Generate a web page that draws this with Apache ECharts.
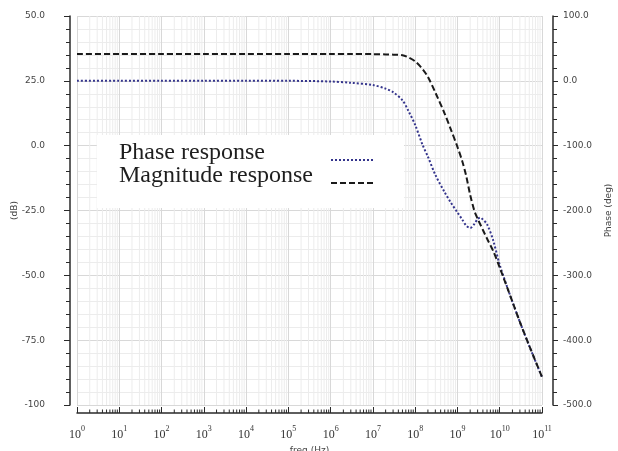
<!DOCTYPE html>
<html>
<head>
<meta charset="utf-8">
<script src="https://cdn.jsdelivr.net/npm/echarts@6/dist/echarts.min.js"></script>
<style>
  html, body { margin: 0; padding: 0; background: #ffffff; }
  #chart { width: 618px; height: 451px; }
</style>
</head>
<body>
<div id="chart"></div>
<script>
// Frequency sweep (Hz) and the two responses sampled at those frequencies
const freqHz = [1, 10, 100, 1e3, 1e4, 1e5, 1e6, 3e6, 1e7, 2e7, 3e7, 5e7, 7e7,
  1e8, 1.5e8, 2e8, 3e8, 5e8, 7e8, 1e9, 1.3e9, 1.6e9, 2e9, 2.5e9, 3e9, 3.5e9,
  4e9, 5e9, 7e9, 1e10, 2e10, 3e10, 5e10, 1e11];

const magnitudeDb = [35.3, 35.3, 35.3, 35.3, 35.3, 35.3, 35.3, 35.3, 35.3, 35.2, 35.1, 34.9, 34.0,
  32.5, 29.5, 26.5, 20.5, 12.3, 6.2, -0.5, -6.0, -11.5, -19.0, -25.0, -28.2, -30.5,
  -32.5, -35.8, -40.6, -47.0, -60.2, -68.0, -77.2, -89.2];

const phaseDeg = [0, 0, 0, 0, 0, 0, -1, -3, -6.5, -12, -17.5, -30, -47,
  -68, -99, -117, -145, -172, -188, -203, -214, -223, -227, -221, -213, -211,
  -214, -221, -246, -284, -341, -372, -409, -457];

// Axis ticks
const dbTicks = [50, 25, 0, -25, -50, -75, -100];
const degTicks = [100, 0, -100, -200, -300, -400, -500];
const decadeExponents = [0, 1, 2, 3, 4, 5, 6, 7, 8, 9, 10];
const minorMultipliers = [2, 3, 4, 5, 6, 7, 8, 9];

const AXIS_OFFSET_X = 8;

// Log-spaced minor positions (2..9 within each decade)
const minorFreqs = [];
decadeExponents.forEach(function (e) {
  minorMultipliers.forEach(function (m) { minorFreqs.push([m * Math.pow(10, e), 0]); });
});

const chart = echarts.init(document.getElementById('chart'), null, { renderer: 'canvas' });

const option = {
  animation: false,
  backgroundColor: '#ffffff',
  grid: { left: 77, right: 76, top: 16, bottom: 46, containLabel: false, outerBoundsMode: 'none' },
  legend: {
    data: ['Phase response', 'Magnitude response'],
    orient: 'vertical',
    left: 97,
    top: 135,
    align: 'right',
    backgroundColor: '#ffffff',
    padding: [6, 30, 6, 22],
    itemGap: -15,
    itemWidth: 42,
    itemHeight: 14,
    itemStyle: { opacity: 0, color: 'rgba(0,0,0,0)', borderWidth: 0 },
    // text sits a little above the line sample, sample near the baseline
    formatter: function (name) { return '{t|' + name + '}'; },
    textStyle: {
      rich: {
        t: {
          fontFamily: 'Liberation Serif',
          fontSize: 24,
          color: '#1e1e1e',
          width: 207,
          align: 'left',
          lineHeight: 24,
          padding: [0, 0, 14, 0]
        }
      }
    }
  },
  xAxis: {
    type: 'log',
    logBase: 10,
    min: 1,
    max: 1e11,
    interval: 1,
    splitNumber: 11,
    offset: AXIS_OFFSET_X,
    name: 'freq (Hz)',
    nameLocation: 'middle',
    nameGap: 32,
    nameTextStyle: { fontFamily: 'DejaVu Sans', fontSize: 9, color: '#444' },
    axisLine: { show: true, onZero: false, lineStyle: { color: '#2a2a2a', width: 1.5 } },
    axisTick: { show: true, inside: true, length: 6, lineStyle: { color: '#2a2a2a' } },
    splitLine: { show: true, lineStyle: { color: '#d8d8d8', width: 1 } },
    axisLabel: {
      margin: 12,
      formatter: function (v) {
        const e = Math.round(Math.log10(v));
        return '{b|10}{s|' + e + '}';
      },
      rich: {
        b: { fontFamily: 'Liberation Serif', fontSize: 12, color: '#333', lineHeight: 16, verticalAlign: 'bottom' },
        s: { fontFamily: 'Liberation Serif', fontSize: 8, color: '#333', lineHeight: 16, verticalAlign: 'top' }
      }
    }
  },
  yAxis: [
    {
      type: 'value',
      position: 'left',
      min: -100,
      max: 50,
      interval: 25,
      offset: 7,
      name: '(dB)',
      nameLocation: 'middle',
      nameRotate: 90,
      nameGap: 51,
      nameMoveOverlap: false,
      nameTextStyle: { fontFamily: 'DejaVu Sans', fontSize: 9, color: '#444' },
      axisLine: { show: true, lineStyle: { color: '#2a2a2a', width: 1.5 } },
      axisTick: { show: true, length: 6, lineStyle: { color: '#2a2a2a' } },
      minorTick: { show: true, splitNumber: 5, length: 4, lineStyle: { color: '#2a2a2a' } },
      splitLine: { show: true, lineStyle: { color: '#d8d8d8', width: 1 } },
      minorSplitLine: { show: true, lineStyle: { color: '#ececec', width: 1 } },
      axisLabel: {
        margin: 25,
        fontFamily: 'DejaVu Sans',
        fontSize: 9,
        color: '#444',
        formatter: function (v) { return v === -100 ? '-100' : v.toFixed(1); }
      }
    },
    {
      type: 'value',
      position: 'right',
      min: -500,
      max: 100,
      interval: 100,
      offset: 11,
      name: 'Phase (deg)',
      nameLocation: 'middle',
      nameRotate: 90,
      nameGap: 51,
      nameMoveOverlap: false,
      nameTextStyle: { fontFamily: 'DejaVu Sans', fontSize: 9, color: '#444' },
      axisLine: { show: true, lineStyle: { color: '#2a2a2a', width: 1.5 } },
      axisTick: { show: true, length: 5, lineStyle: { color: '#2a2a2a' } },
      minorTick: { show: true, splitNumber: 5, length: 4, lineStyle: { color: '#2a2a2a' } },
      splitLine: { show: false },
      axisLabel: {
        margin: 10,
        fontFamily: 'DejaVu Sans',
        fontSize: 9,
        color: '#444',
        formatter: function (v) { return v.toFixed(1); }
      }
    }
  ],
  series: [
    {
      // minor log grid lines and the matching minor ticks on the frequency axis
      type: 'custom',
      name: 'log-grid',
      silent: true,
      z: 1,
      clip: false,
      xAxisIndex: 0,
      yAxisIndex: 0,
      encode: { x: 0, y: 1 },
      data: minorFreqs,
      renderItem: function (params, api) {
        const f = api.value(0);
        const top = api.coord([f, 50]);
        const bot = api.coord([f, -100]);
        const axisY = bot[1] + AXIS_OFFSET_X;
        return {
          type: 'group',
          children: [
            { type: 'line', shape: { x1: top[0], y1: top[1], x2: bot[0], y2: bot[1] },
              style: { stroke: '#ececec', lineWidth: 1 } },
            { type: 'line', shape: { x1: bot[0], y1: axisY, x2: bot[0], y2: axisY - 3.5 },
              style: { stroke: '#2a2a2a', lineWidth: 1 } }
          ]
        };
      }
    },
    {
      name: 'Phase response',
      type: 'line',
      xAxisIndex: 0,
      yAxisIndex: 1,
      z: 3,
      smooth: 0.3,
      symbol: 'none',
      data: freqHz.map(function (f, i) { return [f, phaseDeg[i]]; }),
      lineStyle: { color: '#34348c', width: 2, type: [2, 2] },
      itemStyle: { color: '#34348c' }
    },
    {
      name: 'Magnitude response',
      type: 'line',
      xAxisIndex: 0,
      yAxisIndex: 0,
      z: 3,
      smooth: 0.3,
      symbol: 'none',
      data: freqHz.map(function (f, i) { return [f, magnitudeDb[i]]; }),
      lineStyle: { color: '#1a1a1a', width: 2, type: [6, 3] },
      itemStyle: { color: '#1a1a1a' }
    }
  ]
};

chart.setOption(option);
</script>
</body>
</html>
